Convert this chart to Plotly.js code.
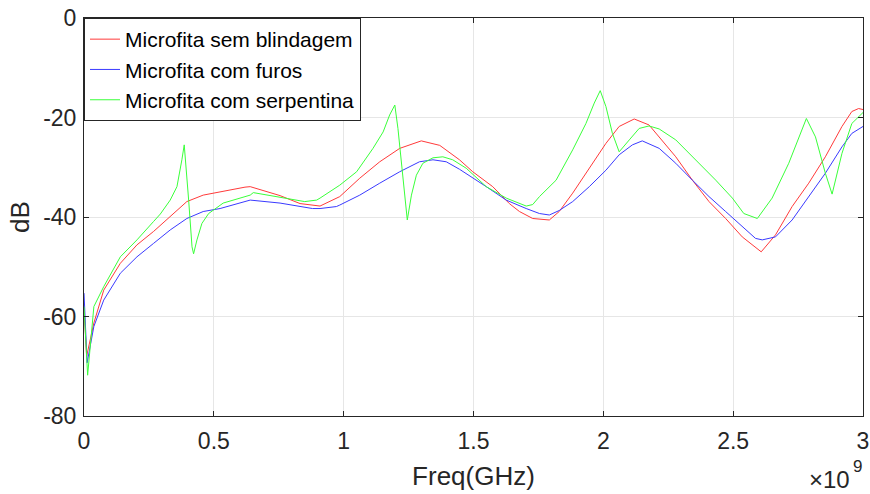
<!DOCTYPE html>
<html><head><meta charset="utf-8">
<script src="https://cdn.plot.ly/plotly-3.0.1.min.js"></script>
<style>body{margin:0;background:#fff}#chart{width:870px;height:494px}</style>
</head><body><div id="chart"></div>
<script>
// Frequencies in GHz (converted to Hz for plotting), values in dB
const freqRed = [0,0.01,0.038,0.076,0.14,0.204,0.268,0.332,0.396,0.459,0.524,0.62,0.64,0.755,0.832,0.896,0.909,0.985,1.062,1.139,1.216,1.299,1.37,1.446,1.497,1.574,1.638,1.677,1.728,1.792,1.83,1.882,1.946,2.01,2.061,2.119,2.176,2.215,2.279,2.343,2.407,2.471,2.535,2.608,2.663,2.727,2.791,2.855,2.919,2.957,2.983,3.0];
const dbRed = [-58,-68,-61.3,-54.7,-49.3,-45.6,-42.9,-39.9,-36.9,-35.6,-34.9,-34.0,-33.9,-35.7,-37.3,-37.7,-37.8,-35.9,-32.2,-28.9,-26.2,-24.7,-25.6,-28.5,-30.9,-33.9,-37.3,-38.9,-40.3,-40.6,-38.9,-35.2,-30.2,-25.2,-21.8,-20.3,-21.5,-23.9,-27.9,-32.6,-36.9,-40.3,-44.0,-47.0,-43.6,-37.9,-33.2,-27.9,-21.8,-18.8,-18.2,-18.4];

const freqBlue = [0,0.012,0.038,0.076,0.14,0.204,0.268,0.332,0.396,0.459,0.524,0.64,0.755,0.832,0.88,0.909,0.972,0.985,1.062,1.139,1.216,1.292,1.344,1.395,1.446,1.549,1.626,1.703,1.754,1.792,1.83,1.882,1.946,2.01,2.061,2.112,2.15,2.215,2.279,2.343,2.407,2.471,2.535,2.586,2.612,2.663,2.727,2.791,2.855,2.919,2.957,3.0];
const dbBlue = [-55.3,-69.3,-62,-56.7,-51.3,-48,-45.3,-42.6,-40.3,-38.9,-38.3,-36.6,-37.2,-37.8,-38.3,-38.3,-37.9,-37.6,-35.6,-33.2,-30.9,-28.9,-28.5,-28.9,-30.4,-33.9,-36.6,-38.3,-39.3,-39.6,-38.7,-36.9,-33.9,-30.6,-27.5,-25.5,-24.7,-26.2,-29.2,-32.6,-35.9,-38.9,-42.0,-44.3,-44.6,-44.0,-40.6,-35.9,-31.2,-25.9,-23.2,-21.8];

const freqGreen = [0,0.014,0.038,0.076,0.14,0.204,0.268,0.294,0.332,0.358,0.377,0.386,0.403,0.416,0.422,0.435,0.454,0.48,0.536,0.64,0.652,0.85,0.896,0.909,0.985,1.05,1.113,1.152,1.177,1.197,1.209,1.222,1.235,1.245,1.261,1.28,1.305,1.344,1.382,1.42,1.472,1.549,1.626,1.703,1.728,1.754,1.818,1.882,1.933,1.965,1.988,2.01,2.035,2.061,2.1,2.138,2.176,2.215,2.279,2.368,2.433,2.497,2.541,2.593,2.65,2.714,2.753,2.782,2.817,2.855,2.881,2.919,2.957,3.0];
const dbGreen = [-58,-71.8,-58,-54,-48,-44.6,-40.9,-39.4,-36.6,-33.9,-28.5,-25.5,-36.6,-46,-47.4,-44.6,-41.3,-39.3,-37.2,-35.6,-35.1,-36.9,-36.6,-36.2,-33.6,-30.9,-26.2,-22.9,-19.5,-17.5,-22.2,-28.9,-36.2,-40.6,-35.6,-31.6,-29.2,-28.1,-27.9,-28.5,-30.2,-33.9,-36.2,-37.8,-37.5,-35.9,-32.6,-26.5,-21.2,-17.1,-14.6,-17.8,-23.2,-26.9,-24.5,-22.2,-21.7,-22.3,-24.5,-29.2,-32.6,-36.2,-39.3,-40.3,-36.2,-29.2,-23.9,-20.2,-23.9,-31.2,-35.4,-27.2,-21.2,-19.0];

const seriesNames = ["Microfita sem blindagem","Microfita com furos","Microfita com serpentina"];
const xTickVals = [0,0.5,1,1.5,2,2.5,3];
const xTickText = ["0","0.5","1","1.5","2","2.5","3"];
const yTickVals = [-80,-60,-40,-20,0];
const yTickText = ["-80","-60","-40","-20","0"];
const exponentBase = "×10";
const exponentPower = "9";

const toHz = a => a.map(v => v * 1e9);
const font = "Liberation Sans, Arial, Helvetica, sans-serif";
const textColor = "#262626";

const traces = [
  {x: toHz(freqRed), y: dbRed, name: seriesNames[0], mode: "lines", line: {color: "#ff3a3a", width: 1}},
  {x: toHz(freqBlue), y: dbBlue, name: seriesNames[1], mode: "lines", line: {color: "#3a3aff", width: 1}},
  {x: toHz(freqGreen), y: dbGreen, name: seriesNames[2], mode: "lines", line: {color: "#3aff3a", width: 1}}
];

const layout = {
  width: 870, height: 494,
  margin: {l: 84, r: 7, t: 18, b: 78},
  paper_bgcolor: "#fff", plot_bgcolor: "#fff",
  font: {family: font, color: textColor, size: 20},
  showlegend: true,
  legend: {x: 0, y: 1, xanchor: "left", yanchor: "top", bgcolor: "#fff",
    bordercolor: "#262626", borderwidth: 1, font: {size: 21, color: "#000"},
    itemwidth: 30, tracegroupgap: 0},
  xaxis: {range: [0, 3e9], tickvals: toHz(xTickVals), ticktext: xTickText,
    showgrid: true, gridcolor: "#e6e6e6", zeroline: false,
    showline: true, linecolor: "#262626", linewidth: 1, mirror: "ticks",
    ticks: "inside", ticklen: 5, tickcolor: "#262626", ticklabelstandoff: 4,
    tickfont: {size: 23}, title: {text: "Freq(GHz)", font: {size: 26}, standoff: 14}},
  yaxis: {range: [-80, 0], tickvals: yTickVals, ticktext: yTickText,
    showgrid: true, gridcolor: "#e6e6e6", zeroline: false,
    showline: true, linecolor: "#262626", linewidth: 1, mirror: "ticks",
    ticks: "inside", ticklen: 5, tickcolor: "#262626", ticklabelstandoff: 2,
    tickfont: {size: 23}, title: {text: "dB", font: {size: 26}, standoff: 6}},
  annotations: [
    {xref: "paper", yref: "paper", x: 1, y: 0, xanchor: "right", yanchor: "top",
     xshift: -11, yshift: -48, showarrow: false, text: exponentBase,
     font: {size: 24, color: textColor}},
    {xref: "paper", yref: "paper", x: 1, y: 0, xanchor: "left", yanchor: "top",
     xshift: -12, yshift: -39, showarrow: false, text: exponentPower,
     font: {size: 17, color: textColor}}
  ]
};

Plotly.newPlot("chart", traces, layout, {staticPlot: true, displayModeBar: false});
</script>
</body></html>
